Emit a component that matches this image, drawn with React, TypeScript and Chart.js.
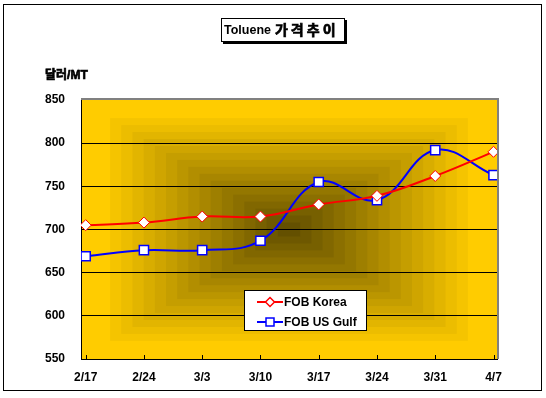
import React, { useEffect, useRef } from "react";
import { Chart, registerables } from "chart.js";

Chart.register(...registerables);

const TITLE = "Toluene 가격추이";
const Y_UNIT = "달러/MT";
const DATES = ["2/17", "2/24", "3/3", "3/10", "3/17", "3/24", "3/31", "4/7"];
const FOB_KOREA = [705, 708, 715, 715, 729, 739, 762, 790];
const FOB_US_GULF = [669, 676, 676, 687, 755, 734, 792, 763];
const SERIES_NAMES = ["FOB Korea", "FOB US Gulf"];
const Y_MIN = 550;
const Y_MAX = 850;
const Y_STEP = 50;

const FONT = '"Liberation Sans", Arial, "Noto Sans CJK KR", sans-serif';

function mix(a: number[], b: number[], f: number) {
  const c = a.map((v, i) => Math.round(v + (b[i] - v) * f));
  return `rgb(${c[0]},${c[1]},${c[2]})`;
}

function boldText(ctx: any, text: string, x: number, y: number) {
  ctx.fillText(text, x, y);
  ctx.lineWidth = 0.7;
  ctx.strokeStyle = "#000";
  ctx.strokeText(text, x, y);
}

const decorPlugin = {
  id: "decor",
  beforeDraw(chart: any) {
    const { ctx, chartArea: a } = chart;
    const gold = [255, 204, 0];
    const dark = [100, 80, 0];
    const W = a.right - a.left;
    const H = a.bottom - a.top;
    const cx = a.left + W / 2;
    const cy = a.top + H / 2;
    ctx.save();
    ctx.fillStyle = mix(gold, gold, 0);
    ctx.fillRect(a.left, a.top, W, H);
    const N = 16;
    for (let k = 1; k <= N; k++) {
      const s = 0.86 * (1 - (k - 1) / N);
      ctx.fillStyle = mix(gold, dark, k / N);
      ctx.fillRect(cx - (s * W) / 2, cy - (s * H) / 2, s * W, s * H);
    }
    ctx.restore();
  },
  afterDraw(chart: any) {
    const { ctx, chartArea: a } = chart;
    const xs = chart.scales.x;
    ctx.save();
    // plot border top/right (gray)
    ctx.strokeStyle = "#808080";
    ctx.lineWidth = 2;
    ctx.beginPath();
    ctx.moveTo(a.left, a.top - 1);
    ctx.lineTo(a.right + 1, a.top - 1);
    ctx.lineTo(a.right + 1, a.bottom);
    ctx.stroke();
    // inward tick marks on the category axis
    ctx.strokeStyle = "#000";
    ctx.lineWidth = 1;
    ctx.beginPath();
    DATES.forEach((_, i) => {
      const px = Math.round(xs.getPixelForValue(i)) + 0.5;
      ctx.moveTo(px, a.bottom);
      ctx.lineTo(px, a.bottom - 4);
    });
    ctx.stroke();

    // legend
    const lx = 244, ly = 290, lw = 122, lh = 40;
    ctx.fillStyle = "#fff";
    ctx.fillRect(lx, ly, lw, lh);
    ctx.strokeStyle = "#000";
    ctx.lineWidth = 1;
    ctx.strokeRect(lx + 0.5, ly + 0.5, lw, lh);
    chart.data.datasets.forEach((ds: any, i: number) => {
      const y = ly + 12 + i * 20;
      ctx.strokeStyle = ds.borderColor;
      ctx.lineWidth = 2;
      ctx.beginPath();
      ctx.moveTo(lx + 13, y);
      ctx.lineTo(lx + 39, y);
      ctx.stroke();
      ctx.fillStyle = "#fff";
      ctx.lineWidth = 1.5;
      ctx.beginPath();
      if (ds.pointStyle === "rectRot") {
        const r = 4.5;
        ctx.moveTo(lx + 26, y - r);
        ctx.lineTo(lx + 26 + r, y);
        ctx.lineTo(lx + 26, y + r);
        ctx.lineTo(lx + 26 - r, y);
        ctx.closePath();
      } else {
        ctx.rect(lx + 22, y - 4, 8, 8);
      }
      ctx.fill();
      ctx.stroke();
      ctx.fillStyle = "#000";
      ctx.font = `bold 12px ${FONT}`;
      ctx.textBaseline = "middle";
      ctx.textAlign = "left";
      ctx.fillText(ds.label, lx + 40, y + 1);
    });

    // title box with shadow
    const tx = 221, ty = 18, tw = 124, th = 24;
    ctx.fillStyle = "#000";
    ctx.fillRect(tx + 2, ty + th, tw, 2);
    ctx.fillRect(tx + tw, ty + 2, 2, th);
    ctx.fillStyle = "#fff";
    ctx.fillRect(tx, ty, tw, th);
    ctx.strokeStyle = "#000";
    ctx.lineWidth = 1;
    ctx.strokeRect(tx + 0.5, ty + 0.5, tw - 1, th - 1);
    const sp = TITLE.indexOf(" ");
    const en = TITLE.slice(0, sp);
    const ko = TITLE.slice(sp + 1);
    ctx.fillStyle = "#000";
    ctx.textBaseline = "middle";
    ctx.textAlign = "left";
    ctx.font = `bold 12.5px ${FONT}`;
    ctx.fillText(en, tx + 3, ty + 12.5);
    const enW = ctx.measureText(en).width;
    ctx.font = `bold 14px "Noto Sans CJK KR", ${FONT}`;
    (ctx as any).letterSpacing = "3px";
    boldText(ctx, ko, tx + 3 + enW + 4, ty + 12);
    (ctx as any).letterSpacing = "0px";

    // unit label
    ctx.font = `bold 12px ${FONT}`;
    boldText(ctx, Y_UNIT, 45, 76);

    // outer border
    ctx.strokeStyle = "#000";
    ctx.lineWidth = 1;
    ctx.strokeRect(3.5, 4.5, 538, 386);
    ctx.restore();
  },
};

export default function App() {
  const ref = useRef<HTMLCanvasElement | null>(null);
  useEffect(() => {
    if (!ref.current) return;
    const chart = new Chart(ref.current, {
      type: "line",
      data: {
        datasets: [
          {
            label: SERIES_NAMES[0],
            data: FOB_KOREA.map((v, i) => ({ x: i, y: v })),
            borderColor: "#FF0000",
            borderWidth: 2,
            pointStyle: "rectRot",
            pointRadius: 5.5,
            pointBackgroundColor: "#FFFFFF",
            pointBorderColor: "#FF0000",
            pointBorderWidth: 1,
            tension: 0.4,
          },
          {
            label: SERIES_NAMES[1],
            data: FOB_US_GULF.map((v, i) => ({ x: i, y: v })),
            borderColor: "#0000FF",
            borderWidth: 2,
            pointStyle: "rect",
            pointRadius: 6.5,
            pointBackgroundColor: "#FFFFFF",
            pointBorderColor: "#0000FF",
            pointBorderWidth: 1.5,
            tension: 0.4,
          },
        ],
      },
      options: {
        animation: false,
        responsive: false,
        events: [],
        layout: { padding: { left: 0, right: 49, top: 100, bottom: 0 } },
        plugins: { legend: { display: false }, title: { display: false }, tooltip: { enabled: false } },
        scales: {
          x: {
            type: "linear",
            min: -0.08,
            max: 7.06,
            afterBuildTicks: (scale: any) => {
              scale.ticks = DATES.map((_, i) => ({ value: i }));
            },
            afterFit: (scale: any) => {
              scale.height = 39;
            },
            grid: { drawOnChartArea: false, drawTicks: false },
            border: { display: true, color: "#000", width: 1 },
            ticks: {
              autoSkip: false,
              maxRotation: 0,
              padding: 11,
              color: "#000",
              font: { family: FONT, size: 12, weight: "bold" },
              callback: (v: any) => DATES[Math.round(Number(v))] ?? "",
            },
          },
          y: {
            min: Y_MIN,
            max: Y_MAX,
            afterFit: (scale: any) => {
              scale.width = 81;
            },
            grid: {
              drawTicks: false,
              color: (c: any) =>
                c.tick && (c.tick.value === Y_MAX || c.tick.value === Y_MIN) ? "rgba(0,0,0,0)" : "#000",
              lineWidth: 1,
            },
            border: { display: true, color: "#000", width: 1 },
            ticks: {
              stepSize: Y_STEP,
              padding: 16,
              color: "#000",
              font: { family: FONT, size: 12, weight: "bold" },
            },
          },
        },
      },
      plugins: [decorPlugin],
    } as any);
    return () => chart.destroy();
  }, []);
  return (
    <div style={{ position: "absolute", left: 0, top: 0, width: 546, height: 398, background: "#fff" }}>
      <canvas ref={ref} width={546} height={398} style={{ display: "block" }} />
    </div>
  );
}
